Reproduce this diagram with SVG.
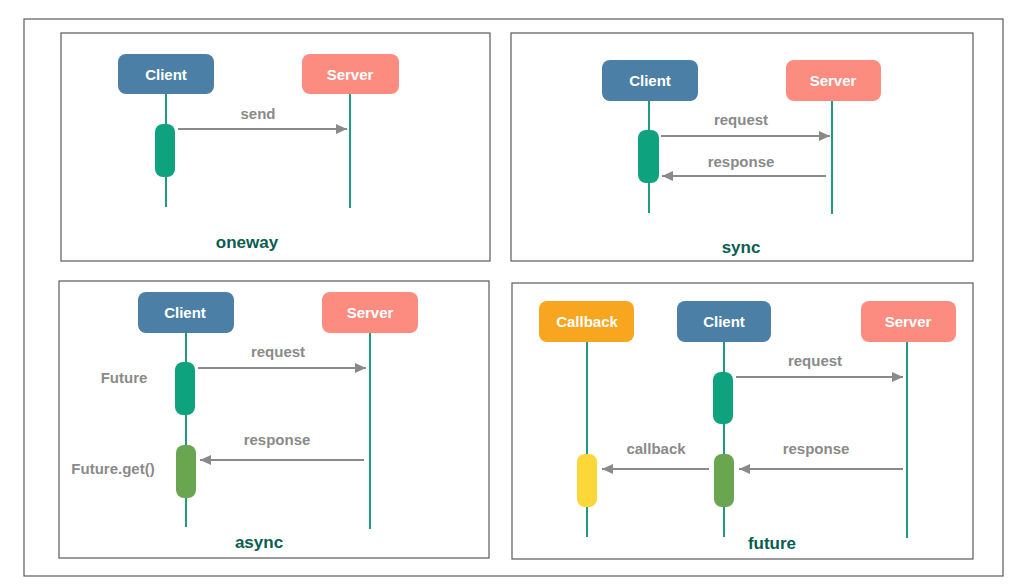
<svg xmlns="http://www.w3.org/2000/svg" width="1025" height="588" viewBox="0 0 1025 588">
<defs>
<marker id="ah" markerUnits="userSpaceOnUse" markerWidth="12" markerHeight="10" refX="11" refY="5" orient="auto">
<path d="M0,0 L11,5 L0,10 Z" fill="#8a8a8a"/>
</marker>
<style>
.frame{fill:#fff;stroke:#5a5a5a;stroke-width:1.2}
.box{rx:8;ry:8}
.client{fill:#4b7fa6}
.server{fill:#fc8b80}
.cb{fill:#f8a51f}
.bl{font-family:"Liberation Sans",Arial,sans-serif;font-weight:bold;font-size:15px;fill:#fff;text-anchor:middle}
.life{stroke:#1e9a85;stroke-width:2}
.act{fill:#0fa27f}
.act2{fill:#69a64f}
.act3{fill:#fdd638}
.msg{stroke:#8a8a8a;stroke-width:2;fill:none;marker-end:url(#ah)}
.ml{font-family:"Liberation Sans",Arial,sans-serif;font-weight:bold;font-size:15px;fill:#8a8a8a;text-anchor:middle}
.title{font-family:"Liberation Sans",Arial,sans-serif;font-weight:bold;font-size:17px;fill:#0c5d51;text-anchor:middle}
</style>
</defs>
<rect width="1025" height="588" fill="#fff"/>
<rect class="frame" x="24" y="19" width="979" height="557"/>

<g id="panel-oneway">
<rect class="frame" x="61" y="33" width="429" height="228"/>
<text class="title" x="247" y="248">oneway</text>
</g>
<g id="panel-sync">
<rect class="frame" x="511" y="33" width="462" height="228"/>
<text class="title" x="741" y="253">sync</text>
</g>
<g id="panel-async">
<rect class="frame" x="59" y="281" width="430" height="277"/>
<text class="title" x="259" y="548">async</text>
</g>
<g id="panel-future">
<rect class="frame" x="512" y="283" width="461" height="276"/>
<text class="title" x="772" y="549">future</text>
</g>

<g id="oneway-client">
<line class="life" x1="166" y1="94" x2="166" y2="207"/>
<rect class="client box" x="118" y="54" width="96" height="40"/>
<text class="bl" x="166" y="80">Client</text>
<rect class="act" x="155" y="124" width="20" height="53" rx="8"/>
</g>
<g id="oneway-server">
<line class="life" x1="350" y1="94" x2="350" y2="208"/>
<rect class="server box" x="302" y="54" width="97" height="40"/>
<text class="bl" x="350" y="80">Server</text>
</g>

<g id="sync-client">
<line class="life" x1="649" y1="101" x2="649" y2="213"/>
<rect class="client box" x="602" y="60" width="96" height="41"/>
<text class="bl" x="650" y="86">Client</text>
<rect class="act" x="638" y="130" width="21" height="53" rx="8"/>
</g>
<g id="sync-server">
<line class="life" x1="832" y1="100" x2="832" y2="214"/>
<rect class="server box" x="786" y="60" width="95" height="41"/>
<text class="bl" x="833" y="86">Server</text>
</g>

<g id="async-client">
<line class="life" x1="186" y1="333" x2="186" y2="527"/>
<rect class="client box" x="138" y="292" width="96" height="41"/>
<text class="bl" x="185" y="318">Client</text>
<rect class="act" x="175" y="362" width="20" height="53" rx="8"/>
<rect class="act2" x="176" y="445" width="20" height="53" rx="8"/>
<text class="ml" x="124" y="383">Future</text>
<text class="ml" x="113" y="474">Future.get()</text>
</g>
<g id="async-server">
<line class="life" x1="370" y1="333" x2="370" y2="529"/>
<rect class="server box" x="322" y="292" width="96" height="41"/>
<text class="bl" x="370" y="318">Server</text>
</g>

<g id="future-callback">
<line class="life" x1="587" y1="342" x2="587" y2="537"/>
<rect class="cb box" x="539" y="301" width="95" height="41"/>
<text class="bl" x="587" y="327">Callback</text>
<rect class="act3" x="577" y="454" width="20" height="53" rx="8"/>
</g>
<g id="future-client">
<line class="life" x1="724" y1="342" x2="724" y2="537"/>
<rect class="client box" x="677" y="301" width="94" height="41"/>
<text class="bl" x="724" y="327">Client</text>
<rect class="act" x="713" y="372" width="20" height="52" rx="8"/>
<rect class="act2" x="714" y="454" width="20" height="53" rx="8"/>
</g>
<g id="future-server">
<line class="life" x1="907" y1="342" x2="907" y2="538"/>
<rect class="server box" x="861" y="301" width="95" height="41"/>
<text class="bl" x="908" y="327">Server</text>
</g>

<g id="connectors">
<line class="msg" x1="178" y1="129" x2="347" y2="129"/>
<text class="ml" x="258" y="119">send</text>

<line class="msg" x1="661" y1="136" x2="830" y2="136"/>
<text class="ml" x="741" y="125">request</text>
<line class="msg" x1="826" y1="176" x2="662" y2="176"/>
<text class="ml" x="741" y="167">response</text>

<line class="msg" x1="198" y1="368" x2="366" y2="368"/>
<text class="ml" x="278" y="357">request</text>
<line class="msg" x1="364" y1="460" x2="200" y2="460"/>
<text class="ml" x="277" y="445">response</text>

<line class="msg" x1="736" y1="377" x2="903" y2="377"/>
<text class="ml" x="815" y="366">request</text>
<line class="msg" x1="903" y1="469" x2="739" y2="469"/>
<text class="ml" x="816" y="454">response</text>
<line class="msg" x1="709" y1="469" x2="602" y2="469"/>
<text class="ml" x="656" y="454">callback</text>
</g>
</svg>
